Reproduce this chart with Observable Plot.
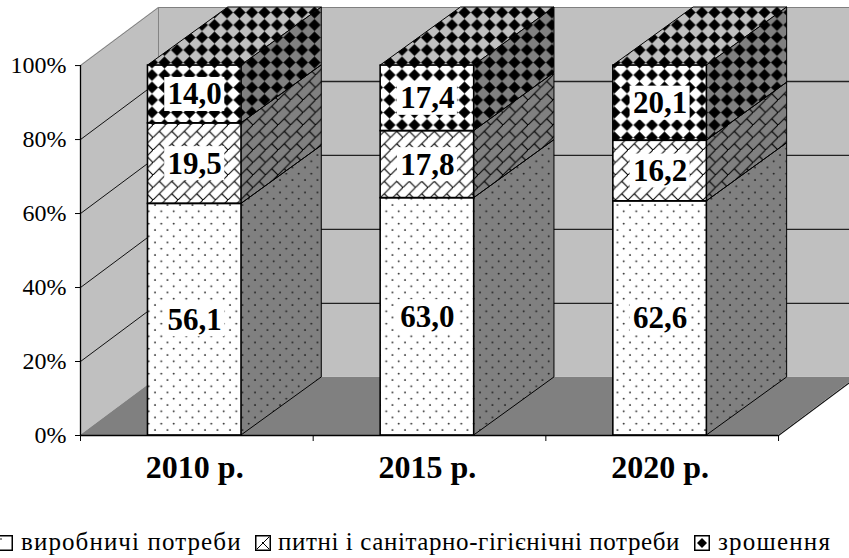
<!DOCTYPE html>
<html><head><meta charset="utf-8">
<script src="https://cdn.jsdelivr.net/npm/d3@7"></script>
<script src="https://cdn.jsdelivr.net/npm/@observablehq/plot@0.6"></script>
<style>
html,body{margin:0;padding:0;background:#fff;overflow:hidden;width:849px;height:558px}
#legend{position:relative;width:849px;height:58px;font-family:"Liberation Serif",serif;font-size:25px;color:#000}
#legend span{position:absolute;top:30px;line-height:24px;white-space:nowrap}
#legend svg{position:absolute;top:35px;width:16px;height:16px;overflow:visible}
</style></head><body>
<div id="chart"></div>
<div id="legend"></div>
<script>
const years = ["2010 р.", "2015 р.", "2020 р."];
const production = [56.1, 63.0, 62.6];
const drinking = [19.5, 17.8, 16.2];
const irrigation = [14.0, 17.4, 20.1];
const valueLabels = [["56,1","63,0","62,6"],["19,5","17,8","16,2"],["14,0","17,4","20,1"]];
const legendNames = ["виробничі потреби","питні і санітарно-гігієнічні потреби","зрошення"];
const patterns = ["pDots","pBrick","pDiamond"];
const gridValues = [0.2,0.4,0.6,0.8];

const serif = '"Liberation Serif",serif';
const wallX = 0.335, barX = 0.345, depthY = 0.157, xMax = 3.305;
const barL = 0.29, barR = 0.692;

// normalised stack segments
const series = [production, drinking, irrigation];
const segments = [];
years.forEach((yr,i)=>{
  const total = production[i]+drinking[i]+irrigation[i];
  let c = 0;
  series.forEach((s,k)=>{
    const y1 = c/total, y2 = (c+s[i])/total; c += s[i];
    segments.push({i,k,y1,y2,x1:i+barL,x2:i+barR,pat:patterns[k],label:valueLabels[k][i]});
  });
});
const sidePts = segments.flatMap(s=>[
  {id:s.i+"-"+s.k,pat:s.pat,x:s.x2,lo:s.y1,hi:s.y2},
  {id:s.i+"-"+s.k,pat:s.pat,x:s.x2+barX,lo:s.y1+depthY,hi:s.y2+depthY}]);
const topPts = years.flatMap((_,i)=>[
  {i,y:1,x1:i+barL,x2:i+barR},
  {i,y:1+depthY,x1:i+barL+barX,x2:i+barR+barX}]);

const defs = () => {
  const d = d3.create("svg:defs");
  const tile = 12.5;
  const p1 = d.append("pattern").attr("id","pDots").attr("patternUnits","userSpaceOnUse")
    .attr("width",tile).attr("height",tile).attr("patternTransform","translate(2,2)");
  p1.append("circle").attr("cx",3).attr("cy",3).attr("r",0.95).attr("fill","#111");
  p1.append("circle").attr("cx",9.25).attr("cy",9.25).attr("r",0.95).attr("fill","#111");
  const p2 = d.append("pattern").attr("id","pBrick").attr("patternUnits","userSpaceOnUse")
    .attr("width",tile).attr("height",tile).attr("patternTransform","translate(3,0)");
  p2.append("path").attr("d",`M-1,${tile+1}L${tile+1},-1M${tile/2},${tile/2}L${tile},${tile}`)
    .attr("stroke","#000").attr("stroke-width",1.05).attr("fill","none");
  const p3 = d.append("pattern").attr("id","pDiamond").attr("patternUnits","userSpaceOnUse")
    .attr("width",tile).attr("height",tile).attr("patternTransform","translate(-4.25,-6.25)");
  p3.append("path").attr("d","M6.25,0.2L12.3,6.25L6.25,12.3L0.2,6.25Z").attr("fill","#000");
  return d.node();
};

const overlays = patterns.map(p => Plot.areaY(sidePts.filter(d=>d.pat===p),{x:"x",y1:"lo",y2:"hi",z:"id",fill:`url(#${p})`,stroke:"#000",strokeWidth:1}));

const plot = Plot.plot({
  width:849,height:500,
  marginLeft:80,marginRight:0,marginTop:7,marginBottom:65,
  style:{fontFamily:serif,background:"#fff",overflow:"hidden",display:"block"},
  x:{domain:[0,xMax],axis:null},
  y:{domain:[0,1+depthY],axis:null},
  marks:[
    defs,
    // back wall
    Plot.rect([0],{x1:wallX,x2:xMax+0.1,y1:depthY,y2:1+depthY,fill:"#c0c0c0",clip:false}),
    // left wall
    Plot.areaY([{x:0,a:0,b:1},{x:wallX,a:depthY,b:1+depthY}],{x:"x",y1:"a",y2:"b",fill:"#c0c0c0"}),
    // floor
    Plot.areaX([{y:0,a:0,b:3},{y:depthY,a:wallX,b:3+wallX}],{y:"y",x1:"a",x2:"b",fill:"#808080"}),
    // grid
    Plot.link(gridValues,{x1:0,x2:wallX,y1:d=>d,y2:d=>d+depthY,stroke:"#111",strokeWidth:1}),
    Plot.link(gridValues,{x1:wallX,x2:xMax,y1:d=>d+depthY,y2:d=>d+depthY,stroke:"#222",strokeWidth:1.3}),
    // wall outlines
    Plot.link([1],{x1:0,x2:wallX,y1:1,y2:1+depthY,stroke:"#808080"}),
    Plot.link([1],{x1:wallX,x2:xMax,y1:1+depthY,y2:1+depthY,stroke:"#808080"}),
    Plot.link([1],{x1:wallX,x2:wallX,y1:depthY,y2:1+depthY,stroke:"#808080"}),
    Plot.link([0],{x1:3,x2:3+wallX,y1:0,y2:depthY,stroke:"#111",strokeWidth:1.1}),
    // bar top faces
    Plot.areaX(topPts,{y:"y",x1:"x1",x2:"x2",z:"i",fill:"#c0c0c0"}),
    Plot.areaX(topPts,{y:"y",x1:"x1",x2:"x2",z:"i",fill:"url(#pDiamond)",stroke:"#000",strokeWidth:1}),
    // bar side faces
    Plot.areaY(sidePts,{x:"x",y1:"lo",y2:"hi",z:"id",fill:"#808080"}),
    ...overlays,
    // bar front faces
    Plot.rect(segments,{x1:"x1",x2:"x2",y1:"y1",y2:"y2",fill:"#fff"}),
    ...patterns.map(p=>Plot.rect(segments.filter(s=>s.pat===p),{x1:"x1",x2:"x2",y1:"y1",y2:"y2",fill:`url(#${p})`,stroke:"#000",strokeWidth:1.6})),
    // label boxes and values
    Plot.rect(segments,{x1:d=>d.i+0.491-0.129,x2:d=>d.i+0.491+0.129,y1:d=>(d.y1+d.y2)/2-0.046,y2:d=>(d.y1+d.y2)/2+0.046,fill:"#fff"}),
    Plot.text(segments,{x:d=>d.i+0.491,y:d=>(d.y1+d.y2)/2,text:"label",fontFamily:serif,fontWeight:"bold",fontSize:31,fill:"#000",textAnchor:"middle",lineAnchor:"middle"}),
    // axes
    Plot.ruleX([0],{y1:0,y2:1,stroke:"#000",strokeWidth:1.3}),
    Plot.ruleY([0],{x1:0,x2:3,stroke:"#000",strokeWidth:1.3}),
    Plot.axisY({ticks:[0,.2,.4,.6,.8,1],tickFormat:d3.format(".0%"),tickSize:5,tickPadding:9,fontSize:24,fontFamily:serif,stroke:"#000",fill:"#000",label:null,anchor:"left"}),
    Plot.axisX({ticks:[0,1,2,3],tickFormat:()=>"",tickSize:6,stroke:"#000",label:null,anchor:"bottom"}),
    Plot.axisX({ticks:[0.491,1.491,2.491],tickFormat:d=>years[Math.floor(d)],tickSize:0,tickPadding:20,fontSize:32,fontWeight:"bold",fontFamily:serif,fill:"#000",label:null,anchor:"bottom"})
  ]
});
document.getElementById("chart").append(plot);

// legend
const leg = d3.select("#legend");
const textX = [21,278,718], swX=[-3,255,694], spacing=[1.1,0.6,1.2];
const swatch = [
  s=>s.append("circle").attr("cx",4).attr("cy",4).attr("r",.8),
  s=>s.append("path").attr("d","M2,14L14,2M7,7L14,14").attr("stroke","#000").attr("fill","none"),
  s=>s.append("path").attr("d","M8,3L13,8L8,13L3,8Z")
];
legendNames.forEach((n,i)=>{
  const s = leg.append("svg").style("left",swX[i]+"px").attr("viewBox","0 0 16 16");
  s.append("rect").attr("x",.75).attr("y",.75).attr("width",14.5).attr("height",14.5).attr("fill","#fff").attr("stroke","#000").attr("stroke-width",1.5);
  swatch[i](s);
  leg.append("span").style("left",textX[i]+"px").style("letter-spacing",spacing[i]+"px").text(n);
});
</script>
</body></html>
